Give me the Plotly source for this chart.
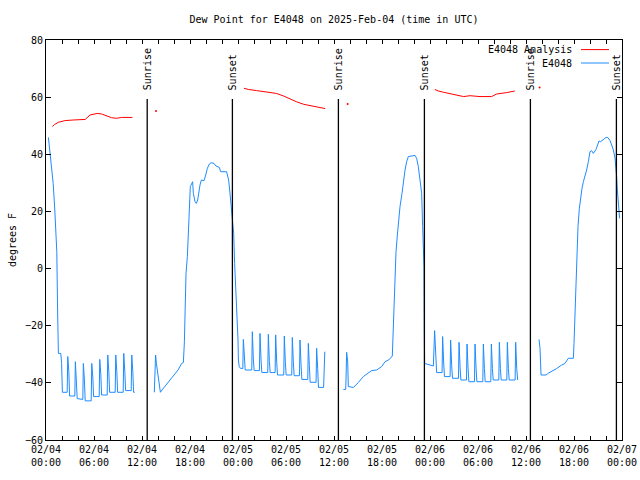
import pandas as pd
import plotly.graph_objects as go

BASE = pd.Timestamp("2025-02-04 00:00")

# ---- observed dew point (hours after 2025-02-04 00:00 UTC, degrees F); None = data gap
obs_hours = [
    0.3, 0.5, 0.7, 0.9, 1.1, 1.35, 1.45, 1.55, 1.85, 1.95, 2.05,
    2.65, 2.72, 2.85, 2.95, 3.6, 3.67, 3.8, 3.9, 4.6, 4.67, 4.8, 4.9,
    5.65, 5.72, 5.85, 5.95, 6.65, 6.72, 6.85, 6.95, 7.65, 7.72, 7.85, 7.95,
    8.65, 8.72, 8.85, 8.95, 9.65, 9.72, 9.85, 9.95, 10.65, 10.72, 10.85, 10.95, 11.1,
    None,
    13.54, 13.6, 13.7, 13.8, 14.3, 14.5, 15.5, 16.5, 16.96, 17.17, 17.3, 17.4, 17.5,
    17.67, 17.8, 17.9, 18.04, 18.33, 18.42, 18.63, 18.79, 18.96, 19.13, 19.25, 19.42,
    19.75, 20.0, 20.17, 20.42, 20.63, 21.0, 21.25, 21.67, 21.83, 22.58, 22.7, 22.83,
    22.96, 23.08, 23.2, 23.33, 23.46, 23.58, 23.71, 23.83, 23.96, 24.0, 24.05, 24.15,
    24.3, 24.6, 24.67, 24.8, 24.9,
    25.72, 25.79, 25.92, 26.02, 26.68, 26.75, 26.88, 26.98, 27.72, 27.79, 27.92, 28.02,
    28.64, 28.71, 28.84, 28.94, 29.72, 29.79, 29.92, 30.02, 30.72, 30.79, 30.92, 31.02,
    31.68, 31.75, 31.88, 31.98, 32.72, 32.79, 32.92, 33.02, 33.76, 33.83, 33.96, 34.06,
    34.7, 34.75, 34.85,
    None,
    37.17, 37.46, 37.5, 37.58, 37.71, 37.79, 38.42, 39.04, 39.67, 40.29, 40.71, 41.33,
    41.96, 42.38, 42.92, 43.29, 43.42, 43.58, 43.75, 43.92, 44.08, 44.25, 44.5, 44.67,
    44.88, 45.08, 45.29, 46.13, 46.33, 46.54, 46.75, 46.96, 47.08, 47.25, 47.29,
    47.33, 48.0, 48.42, 48.58, 48.71, 48.83,
    49.51, 49.58, 49.71, 49.81, 50.51, 50.58, 50.71, 50.81, 51.56, 51.63, 51.76, 51.86,
    52.56, 52.63, 52.76, 52.86, 53.56, 53.63, 53.76, 53.86, 54.6, 54.67, 54.8, 54.9,
    55.6, 55.67, 55.8, 55.9, 56.6, 56.67, 56.8, 56.9, 57.6, 57.67, 57.8, 57.9,
    58.64, 58.71, 58.84, 58.96,
    None,
    61.63, 61.75, 61.88, 62.5, 62.8, 63.42, 63.83, 64.46, 64.88, 65.29, 65.92, 66.0,
    66.13, 66.25, 66.38, 66.5, 66.67, 66.83, 67.0, 67.17, 67.38, 67.58, 67.79, 68.0,
    68.21, 68.42, 68.75, 69.13, 69.33, 69.67, 70.0, 70.21, 70.5, 70.71, 70.92, 71.13,
    71.25, 71.33, 71.42, 71.54, 71.67, 71.7,
]
obs_values = [
    45.9, 40.3, 36.8, 29.8, 20.5, 5.9, -14.5, -29.7, -29.7, -33.2, -43.3,
    -43.3, -30.8, -36.0, -44.6, -44.6, -32.6, -38.0, -45.5, -45.8, -33.2, -39.0, -46.3,
    -46.3, -33.2, -38.0, -44.8, -44.8, -31.8, -37.0, -44.25, -44.25, -30.25, -36.0, -43.3,
    -43.3, -30.25, -36.0, -43.3, -43.3, -29.7, -36.0, -42.7, -42.7, -30.25, -36.0, -43.3, -43.3,
    None,
    -43.3, -39.0, -30.25, -33.2, -43.3, -42.5, -39.0, -35.5, -33.2, -32.9, -25.6, -12.2, -1.7,
    4.2, 11.75, 20.5, 28.7, 30.4, 26.3, 23.4, 22.8, 24.0, 27.5, 29.25, 31.0,
    30.75, 33.1, 35.1, 36.6, 37.05, 36.8, 35.9, 35.4, 33.9, 33.9, 32.75, 31.0,
    27.5, 24.0, 21.1, 18.75, 12.3, 1.8, -5.2, -13.3, -20.9, -25.0, -32.0, -34.3,
    -34.9, -35.0, -24.8, -32.6, -35.5,
    -35.5, -22.1, -32.0, -35.7, -35.7, -22.7, -32.0, -36.4, -36.4, -23.0, -32.5, -36.4,
    -36.4, -23.2, -33.0, -37.25, -37.25, -23.6, -33.0, -37.25, -37.25, -24.1, -33.0, -37.5,
    -37.5, -25.0, -33.5, -38.8, -38.8, -26.2, -34.0, -39.8, -39.8, -27.9, -35.0, -41.6,
    -41.6, -38.0, -29.1,
    None,
    -42.3, -42.3, -39.0, -29.3, -32.6, -41.3, -41.6, -39.9, -37.8, -36.4, -35.7, -35.5,
    -34.3, -32.6, -31.8, -30.6, -21.5, -4.0, 5.9, 11.75, 18.2, 21.7, 26.3, 30.4,
    34.5, 37.4, 39.2, 39.6, 38.6, 35.7, 31.6, 26.3, 14.7, 0.65, -21.7,
    -33.2, -33.75, -34.1, -21.7, -33.2, -36.4,
    -36.4, -23.8, -33.0, -37.8, -37.8, -25.0, -34.0, -38.4, -38.4, -25.8, -34.5, -39.0,
    -39.0, -26.4, -35.0, -39.6, -39.6, -26.4, -35.0, -39.6, -39.6, -26.4, -35.0, -39.6,
    -39.6, -26.4, -35.0, -39.0, -39.0, -25.8, -35.0, -39.0, -39.0, -25.8, -35.0, -39.0,
    -39.0, -25.8, -35.0, -39.0,
    None,
    -24.8, -27.9, -37.25, -37.25, -36.6, -35.7, -35.0, -33.75, -33.2, -31.4, -31.4, -26.2,
    -15.7, -4.6, 7.65, 14.7, 21.1, 25.75, 28.1, 30.4, 32.4, 34.5, 37.4, 40.9,
    41.25, 40.3, 41.7, 44.65, 44.4, 45.2, 45.9, 45.9, 44.8, 43.25, 41.5, 38.6,
    35.7, 32.2, 27.5, 24.0, 20.5, 17.6,
]

# ---- analysis dew point
ana_hours = [
    0.8, 1.05, 1.55, 2.4, 3.4, 4.9, 5.5, 6.4, 6.96, 7.58, 8.2, 8.83, 9.46, 10.8,
    None,
    24.75, 25.3, 26.3, 27.6, 28.8, 29.7, 30.5, 31.3, 32.2, 33.2, 34.04, 34.9,
    None,
    48.6, 49.04, 49.7, 50.5, 51.3, 52.2, 53.0, 54.25, 55.7, 56.33, 57.6, 58.6,
]
ana_values = [
    49.7, 50.4, 51.2, 51.8, 52.0, 52.2, 53.75, 54.3, 54.1, 53.4, 52.8, 52.6, 52.9, 52.9,
    None,
    63.1, 62.7, 62.3, 61.7, 61.3, 60.4, 59.35, 58.4, 57.5, 56.9, 56.3, 56.0,
    None,
    62.7, 62.15, 61.7, 61.3, 60.75, 60.2, 60.5, 60.2, 60.2, 61.1, 61.6, 62.15,
]
ana_dot_hours = [13.75, 37.7, 61.7]
ana_dot_values = [55.15, 57.6, 63.4]

# ---- sun events (hours after 2025-02-04 00:00 UTC)
sunrise_hours = [12.65, 36.55, 60.55]
sunset_hours = [23.3, 47.3, 71.3]

tick_hours = list(range(0, 73, 2))

TITLE = "Dew Point for E4048 on 2025-Feb-04 (time in UTC)"
Y_TITLE = "degrees F"
SERIES_ANALYSIS = "E4048 Analysis"
SERIES_OBS = "E4048"

BLUE = "#1e8cff"
RED = "#ff0000"
FONT = "DejaVu Sans Mono"


def to_time(hours):
    return [None if h is None else BASE + pd.Timedelta(hours=h) for h in hours]


fig = go.Figure()
fig.add_trace(go.Scatter(x=to_time(ana_hours), y=ana_values, mode="lines",
                         line=dict(color=RED, width=1), connectgaps=False,
                         name=SERIES_ANALYSIS, showlegend=False))
fig.add_trace(go.Scatter(x=to_time(ana_dot_hours), y=ana_dot_values, mode="markers",
                         marker=dict(color=RED, size=2), showlegend=False))
fig.add_trace(go.Scatter(x=to_time(obs_hours), y=obs_values, mode="lines",
                         line=dict(color=BLUE, width=1), connectgaps=False,
                         name=SERIES_OBS, showlegend=False))

shapes = []
annotations = []
for label, hours in (("Sunrise", sunrise_hours), ("Sunset", sunset_hours)):
    for h in hours:
        t = BASE + pd.Timedelta(hours=h)
        shapes.append(dict(type="line", xref="x", yref="paper", x0=t, x1=t,
                           y0=0, y1=0.8525, line=dict(color="black", width=1.3)))
        annotations.append(dict(text=label, xref="x", yref="paper", x=t, y=0.87,
                                xanchor="center", yanchor="bottom", textangle=-90,
                                showarrow=False, font=dict(family=FONT, size=10, color="black")))

# gnuplot-style key (text then line sample), top right inside
for i, (name, color) in enumerate(((SERIES_ANALYSIS, RED), (SERIES_OBS, BLUE))):
    yy = 0.976 - i * 0.0335
    annotations.append(dict(text=name, xref="paper", yref="paper", x=0.9167, y=yy,
                            xanchor="right", yanchor="middle", showarrow=False,
                            font=dict(family=FONT, size=10, color="black")))
    shapes.append(dict(type="line", xref="paper", yref="paper", x0=0.9288, x1=0.9774,
                       y0=yy, y1=yy, line=dict(color=color, width=1)))

tickvals = [BASE + pd.Timedelta(hours=h) for h in tick_hours]
ticktext = [(BASE + pd.Timedelta(hours=h)).strftime("%m/%d<br>%H:%M") if h % 6 == 0 else ""
            for h in tick_hours]

fig.update_layout(
    width=640, height=480,
    margin=dict(l=46, r=18, t=40, b=40),
    paper_bgcolor="white", plot_bgcolor="white",
    font=dict(family=FONT, size=10, color="black"),
    title=dict(text=TITLE, x=0.5, xref="paper", y=1 - 19 / 480, yref="container",
               yanchor="middle", xanchor="center", font=dict(family=FONT, size=10)),
    shapes=shapes, annotations=annotations,
    showlegend=False,
)
fig.update_xaxes(type="date", range=[BASE, BASE + pd.Timedelta(hours=72)],
                 tickvals=tickvals, ticktext=ticktext, ticks="inside", ticklen=4,
                 tickcolor="black", showline=True, linecolor="black", linewidth=1,
                 mirror="ticks", showgrid=False, zeroline=False, automargin=False,
                 tickfont=dict(family=FONT, size=10))
fig.update_yaxes(range=[-60, 80], dtick=20, tick0=0, ticks="inside", ticklen=5,
                 tickcolor="black", showline=True, linecolor="black", linewidth=1,
                 mirror="ticks", showgrid=False, zeroline=False,
                 title=dict(text=Y_TITLE, standoff=6, font=dict(family=FONT, size=10)),
                 tickfont=dict(family=FONT, size=10), automargin=False)

fig.write_html("out.html", config={"displayModeBar": False},
               post_script="document.body.style.margin='0px';")
